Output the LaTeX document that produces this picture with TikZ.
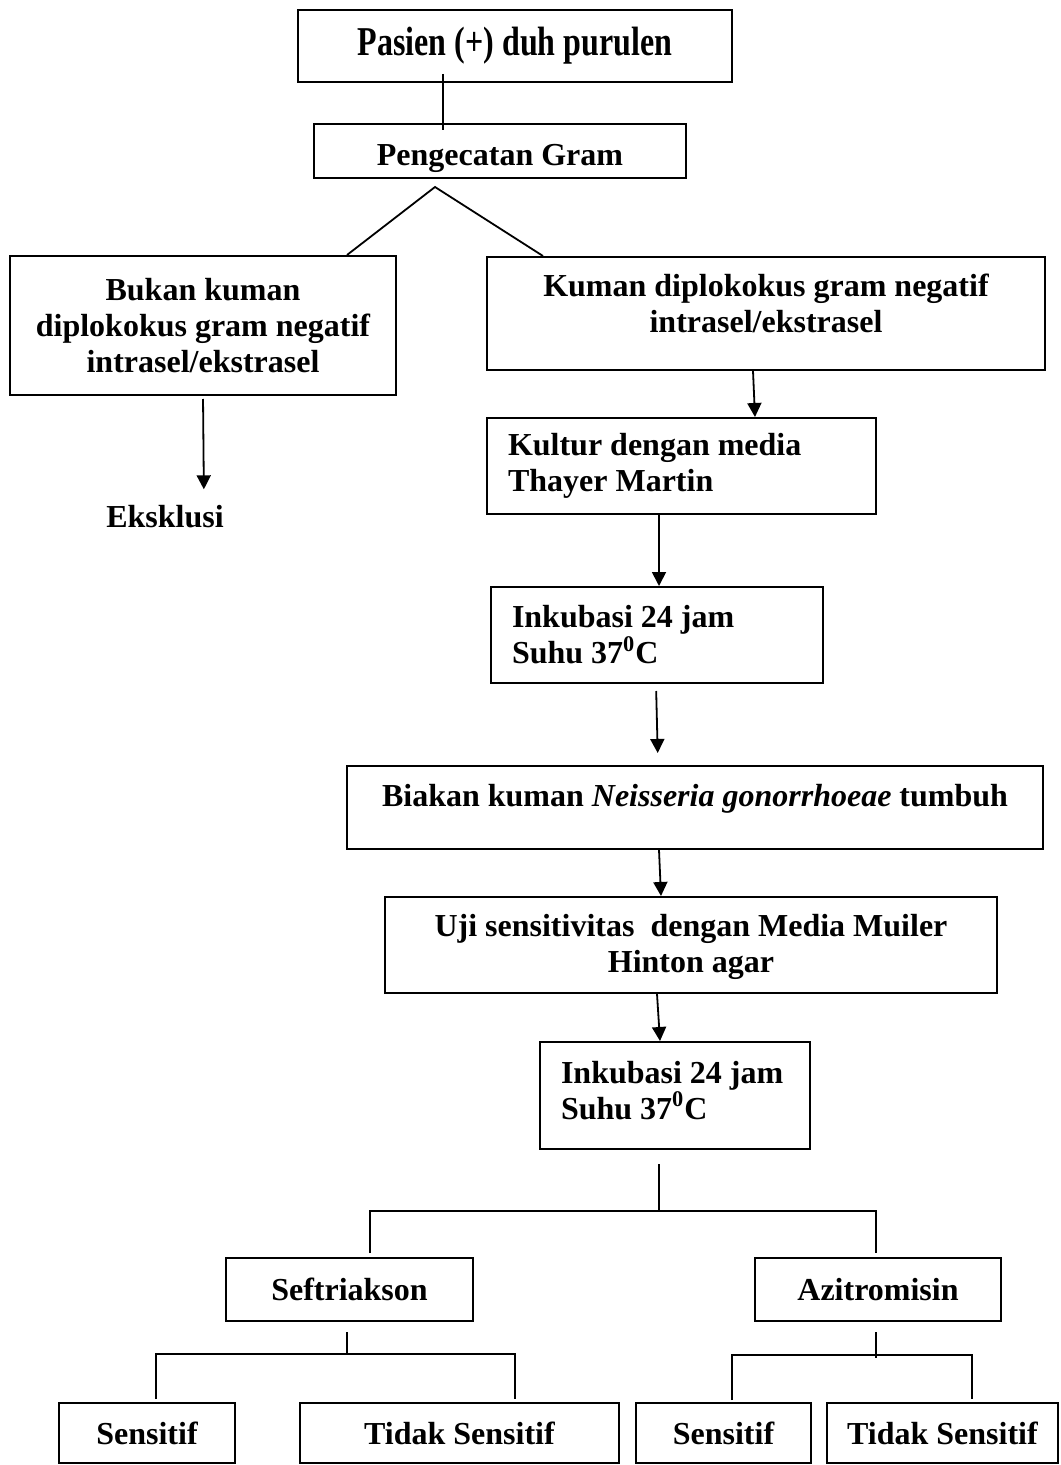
\documentclass[tikz,border=0pt]{standalone}
\usepackage{fontspec}
\setmainfont{Liberation Serif}
\usepackage{graphicx}
\usetikzlibrary{arrows.meta}
\newcommand{\flowfont}{\fontsize{16pt}{18pt}\selectfont\bfseries}

\begin{document}
\begin{tikzpicture}[x=0.5pt,y=-0.5pt,
    box/.style={draw,line width=1pt,inner sep=0pt,align=center,font=\flowfont},
    cbox/.style={box,align=flush center},
    lbox/.style={box,align=flush left},
    conn/.style={line width=0.9pt},
    arr/.style={-{Triangle[length=7pt,width=7pt]},line width=0.9pt}]
  \useasboundingbox (0,0) rectangle (1060,1465);
  \node[box,minimum width=217pt,minimum height=36pt] (pasien) at (515,46) {\scalebox{1}[1.28]{Pasien (+) duh purulen}};
  \node[box,minimum width=186pt,minimum height=27pt,text height=15pt,text depth=0pt] (gram) at (500,151) {Pengecatan Gram};
  \node[box,minimum width=193pt,minimum height=69.5pt] (bukan) at (203,325.5) {Bukan kuman\\diplokokus gram negatif\\intrasel/ekstrasel};
  \node[cbox,minimum width=279pt,minimum height=56.5pt,text width=279pt,text height=11pt,text depth=27.5pt] (kuman) at (766,313.5) {Kuman diplokokus gram negatif\\intrasel/ekstrasel};
  \node[font=\flowfont,inner sep=0pt] (eks) at (165,517) {Eksklusi};
  \node[lbox,minimum width=194.5pt,minimum height=48pt,text width=173.5pt] (kultur) at (681.5,466) {Kultur dengan media\\Thayer Martin};
  \node[lbox,minimum width=166pt,minimum height=48pt,text width=145pt] (inkA) at (657,635) {Inkubasi 24 jam\\Suhu 37\textsuperscript{0}C};
  \node[box,minimum width=348pt,minimum height=41.5pt,text height=11pt,text depth=12.4pt] (biakan) at (695,807.5) {Biakan kuman \textit{Neisseria gonorrhoeae} tumbuh};
  \node[cbox,minimum width=306pt,minimum height=48pt,text width=306pt,text height=11pt,text depth=20pt] (uji) at (691,945) {Uji sensitivitas\ \ dengan Media Muiler\\Hinton agar};
  \node[lbox,minimum width=135pt,minimum height=53.5pt,text width=114pt,text height=11pt,text depth=23.5pt] (inkB) at (675,1095.5) {Inkubasi 24 jam\\Suhu 37\textsuperscript{0}C};
  \node[box,minimum width=123.5pt,minimum height=31.5pt] (seft) at (349.5,1289.5) {Seftriakson};
  \node[box,minimum width=123pt,minimum height=31.5pt] (azi) at (878,1289.5) {Azitromisin};
  \node[box,minimum width=88pt,minimum height=30pt] (sensA) at (147,1433) {Sensitif};
  \node[box,minimum width=159.5pt,minimum height=30pt] (tidakA) at (459.5,1433) {Tidak Sensitif};
  \node[box,minimum width=87.5pt,minimum height=30pt] (sensB) at (723.5,1433) {Sensitif};
  \node[box,minimum width=115.5pt,minimum height=30pt] (tidakB) at (942.5,1433) {Tidak Sensitif};
  \coordinate (apex) at (435,187);
  \coordinate (forkA) at (659,1211);
  \coordinate (forkB) at (347,1354);
  \coordinate (forkC) at (876,1355);
  \draw[conn,shorten <=-4.5pt,shorten >=-3.5pt] (pasien.south -| 443,0) -- (gram.north -| 443,0);
  \draw[conn] (bukan.north -| 347,0) -- (apex) -- (kuman.north -| 543,0);
  \draw[arr,shorten <=1.5pt,shorten >=8pt] (bukan.south -| 203,0) -- (eks.north -| 204,0);
  \draw[arr] (kuman.south -| 753,0) -- (kultur.north -| 755,0);
  \draw[arr] (kultur.south -| 659,0) -- (inkA.north -| 659,0);
  \draw[arr,shorten <=3.5pt,shorten >=6pt] (inkA.south -| 656,0) -- (biakan.north -| 658,0);
  \draw[arr] (biakan.south -| 659,0) -- (uji.north -| 661,0);
  \draw[arr] (uji.south -| 657,0) -- (inkB.north -| 660,0);
  \draw[conn,shorten <=7pt] (inkB.south -| forkA) -- (forkA);
  \draw[conn,shorten <=2pt,shorten >=2pt] (seft.north -| 370,0) |- (forkA) -| (azi.north -| 876,0);
  \draw[conn,shorten <=5pt] (seft.south -| forkB) -- (forkB);
  \draw[conn,shorten <=1.5pt,shorten >=1.5pt] (sensA.north -| 156,0) |- (forkB) -| (tidakA.north -| 515,0);
  \draw[conn,shorten <=5pt,shorten >=-1.5pt] (azi.south -| forkC) -- (forkC);
  \draw[conn,shorten <=1pt,shorten >=1.5pt] (sensB.north -| 732,0) |- (forkC) -| (tidakB.north -| 972,0);
\end{tikzpicture}
\end{document}
